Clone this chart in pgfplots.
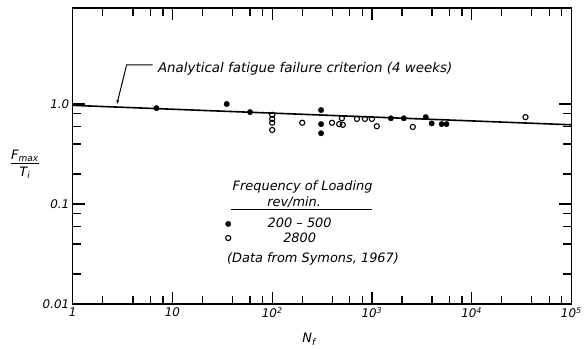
\documentclass[border=0pt]{standalone}
\usepackage{pgfplots}
\pgfplotsset{compat=1.18}
\usepackage{fontspec}
\setmainfont{DejaVu Sans}
\usetikzlibrary{arrows.meta}
\begin{document}
\begin{tikzpicture}
\begin{axis}[
 scale only axis, width=500bp, height=297bp,
 xmode=log, ymode=log,
 xmin=1, xmax=1e5, ymin=0.01, ymax=9.12,
 axis line style={line width=1.4bp},
 xtick={1,10,100,1000,10000,100000},
 xticklabels={1,10,10\textsuperscript{2},10\textsuperscript{3},10\textsuperscript{4},10\textsuperscript{5}},
 minor xtick={2,4,6,8,20,40,60,80,200,400,600,800,2000,4000,6000,8000,20000,40000,60000,80000},
 ytick={0.01,0.1,1},
 yticklabels={0.01,0.1,1.0},
 minor ytick={0.02,0.04,0.06,0.08,0.2,0.4,0.6,0.8},
 tick align=inside,
 every tick/.style={black, line width=1.4bp},
 major tick length=12.5bp, minor tick length=8bp,
 ticklabel style={font=\fontsize{12}{14}\selectfont\itshape},
 clip=false,
 legend image code/.code={\draw[#1] plot coordinates {(0bp,0bp)};},
 legend style={draw=none, fill=none, at={(rel axis cs:0.306,0.247)}, anchor=west,
   row sep=-1bp, inner sep=0pt, column sep=0pt,
   font=\fontsize{13}{15}\selectfont\itshape},
]
\addplot[black, line width=1.6bp, forget plot] coordinates {(1,0.97) (100000,0.62)};
\addplot[only marks, mark=*, mark size=2.7bp, black] coordinates {
(6.9,0.91) (35,1.0) (60,0.83) (309,0.87) (309,0.63) (309,0.51)
(1550,0.72) (2090,0.72) (3470,0.74) (3980,0.64) (5000,0.63) (5600,0.63)};
\addlegendentry{\makebox[134bp][c]{200 -- 500}}
\addplot[only marks, mark=o, mark size=2.6bp, black, line width=1.1bp] coordinates {
(100,0.78) (100,0.71) (100,0.65) (100,0.55)
(200,0.65) (398,0.65) (470,0.63) (500,0.72) (510,0.62)
(708,0.71) (851,0.71) (1000,0.71) (1120,0.60) (2570,0.59) (34700,0.74)};
\addlegendentry{\makebox[134bp][c]{2800}}
% annotation
\node[anchor=west, font=\fontsize{13.5}{16}\selectfont\itshape] at (rel axis cs:0.164,0.795) {Analytical fatigue failure criterion (4 weeks)};
\draw[line width=1bp, -{Latex[length=5bp,width=3bp]}] (rel axis cs:0.16,0.808) -- (rel axis cs:0.108,0.808) -- (rel axis cs:0.088,0.672);
% legend header
\node[font=\fontsize{13}{15}\selectfont\itshape, inner sep=1bp] at (rel axis cs:0.461,0.394) {Frequency of Loading};
\node[font=\fontsize{13}{15}\selectfont\itshape, inner sep=1bp] at (rel axis cs:0.444,0.344) {rev/min.};
\draw[line width=1.2bp] (rel axis cs:0.318,0.320) -- (rel axis cs:0.600,0.320);
\node[font=\fontsize{13}{15}\selectfont\itshape] at (rel axis cs:0.482,0.154) {(Data from Symons, 1967)};
% axis labels
\node[font=\fontsize{13}{15}\selectfont\itshape, inner sep=0pt] at (rel axis cs:-0.096,0.471)
  {\begin{tabular}{@{}c@{}}F\textsubscript{max}\\[-1pt]\hline\rule{0pt}{13pt}T\textsubscript{i}\end{tabular}};
\node[font=\fontsize{13}{15}\selectfont\itshape] at (rel axis cs:0.474,-0.118) {N\textsubscript{f}};
\end{axis}
\path[use as bounding box] (-73bp,-38bp) rectangle (512bp,305bp);
\end{tikzpicture}
\end{document}
